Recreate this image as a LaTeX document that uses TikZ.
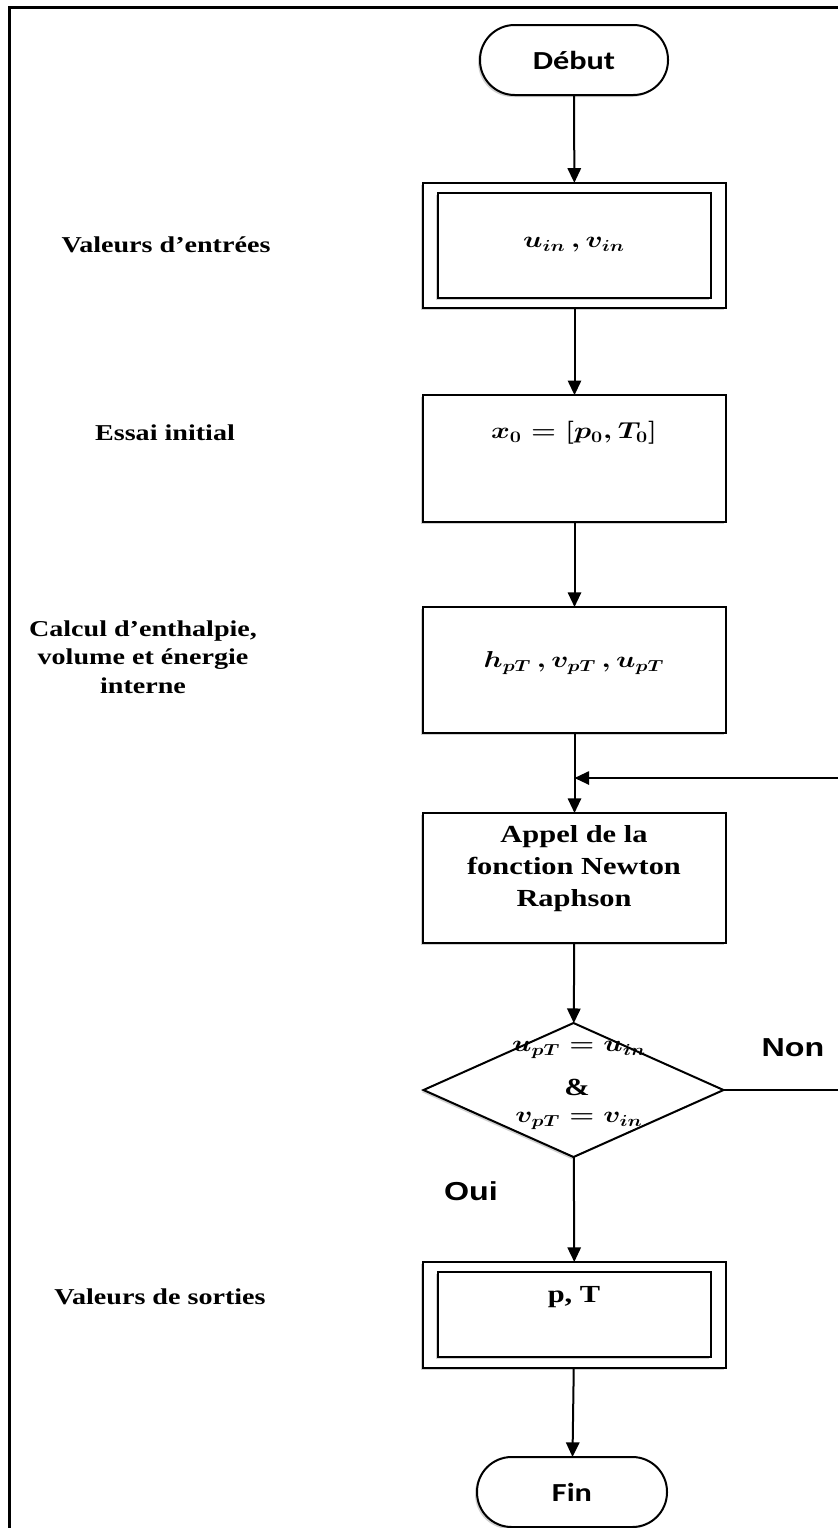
\documentclass[tikz,border=0pt]{standalone}
\usepackage{graphicx}
\usepackage{fontspec}
\setmainfont{Liberation Serif}
\newfontfamily\sansbold{Liberation Sans}
\newfontfamily\carlito{Carlito}
\usetikzlibrary{arrows.meta,shapes.geometric,shadows}
\newcommand{\hs}[1]{\scalebox{1.24}[1]{#1}}
\begin{document}
\begin{tikzpicture}[x=0.75pt,y=-0.75pt,
  ln/.style={line width=1.5pt},
  arr/.style={line width=1.5pt,-{Triangle[length=11pt,width=10pt]}},
  shad/.style={drop shadow={shadow xshift=-1.5pt,shadow yshift=-1.5pt,opacity=0.18,fill=black}},
  term/.style={draw,fill=white,shad,line width=1.5pt,rounded corners=26pt,minimum width=141pt,minimum height=52.5pt,inner sep=0pt,outer sep=0pt},
  procbox/.style={draw,fill=white,shad,line width=1.5pt,minimum width=227pt,inner sep=0pt,outer sep=0pt},
  innerbox/.style={draw,fill=white,shad,line width=1.5pt,minimum width=205pt,inner sep=0pt,outer sep=0pt},
  dec/.style={draw,fill=white,shad,diamond,line width=1.5pt,minimum width=225pt,minimum height=100.5pt,inner sep=0pt,outer sep=0pt},
  lab/.style={inner sep=0pt,font=\fontsize{17}{21.4}\selectfont\bfseries},
  boxfont/.style={inner sep=0pt,font=\fontsize{18.4}{24}\selectfont\bfseries},
  mathfont/.style={inner sep=0pt,font=\fontsize{18}{24}\selectfont\boldmath},
  sansfont/.style={inner sep=0pt,font=\fontsize{19.5}{24}\selectfont\sansbold\bfseries},
  termfont/.style={font=\fontsize{19.5}{24}\selectfont\carlito\bfseries}
]
\useasboundingbox (0,0) rectangle (838,1528);
\clip (0,0) rectangle (838,1528);
\fill[white] (0,0) rectangle (838,1528);

% frame
\draw[line width=2.25pt] (9,1540) -- (9,7) -- (850,7);

% nodes
\node[term,termfont] (start) at (574,60) {\hs{Début}};
\node[procbox,minimum height=94pt] (inA) at (574.5,245.5) {};
\node[innerbox,minimum height=79pt] (inB) at (574.5,245.5) {};
\node[procbox,minimum height=95pt] (essai) at (574.5,458.5) {};
\node[procbox,minimum height=94.5pt] (calc) at (574.5,670) {};
\node[procbox,minimum height=97.5pt] (appel) at (574.5,878) {};
\node[dec] (dia) at (573.5,1090) {};
\node[procbox,minimum height=79.5pt] (outA) at (574.5,1315) {};
\node[innerbox,minimum height=64pt] (outB) at (574.5,1314.5) {};
\node[term,termfont,minimum width=142.5pt] (fin) at (572,1492) {\hs{Fin}};

% box texts
\node[mathfont] (tin) at (574,245) {\hs{$u_{in}\,, v_{in}$}};
\node[mathfont] (tx0) at (574,433) {\hs{$x_0=[p_0,T_0]$}};
\node[mathfont] (th) at (574,663) {\hs{$h_{pT}\,, v_{pT}\,, u_{pT}$}};
\node[boxfont] (tap) at (574,868) {\hs{\begin{tabular}{@{}c@{}}Appel de la\\ fonction Newton\\ Raphson\end{tabular}}};
\node[mathfont] (td1) at (579,1050) {\hs{$u_{pT}=u_{in}$}};
\node[boxfont] (td2) at (577,1087) {\hs{\&}};
\node[mathfont] (td3) at (579,1121) {\hs{$v_{pT}=v_{in}$}};
\node[boxfont] (tout) at (574,1297) {\hs{p, T}};

% side labels
\node[lab] (l1) at (166,245) {\hs{Valeurs d’entrées}};
\node[lab] (l2) at (165,433) {\hs{Essai initial}};
\node[lab] (l3) at (143,659) {\hs{\begin{tabular}{@{}c@{}}Calcul d’enthalpie,\\ volume et énergie\\ interne\end{tabular}}};
\node[lab] (l4) at (160,1297) {\hs{Valeurs de sorties}};
\node[sansfont] (non) at (793,1048) {\hs{Non}};
\node[sansfont] (oui) at (471,1191) {\hs{Oui}};

% connectors
\coordinate (m) at (574.5,778);
\coordinate (r1) at (870,1090);
\coordinate (r2) at (870,778);
\draw[arr] (start) -- (inA);
\draw[arr] (inA) -- (essai);
\draw[arr] (essai) -- (calc);
\draw[arr] (calc) -- (appel);
\draw[arr] (appel) -- (dia);
\draw[arr] (dia) -- (outA);
\draw[arr] (outA) -- (fin);
\draw[arr] (dia.east) -- (r1) -- (r2) -- (m);
\end{tikzpicture}
\end{document}
